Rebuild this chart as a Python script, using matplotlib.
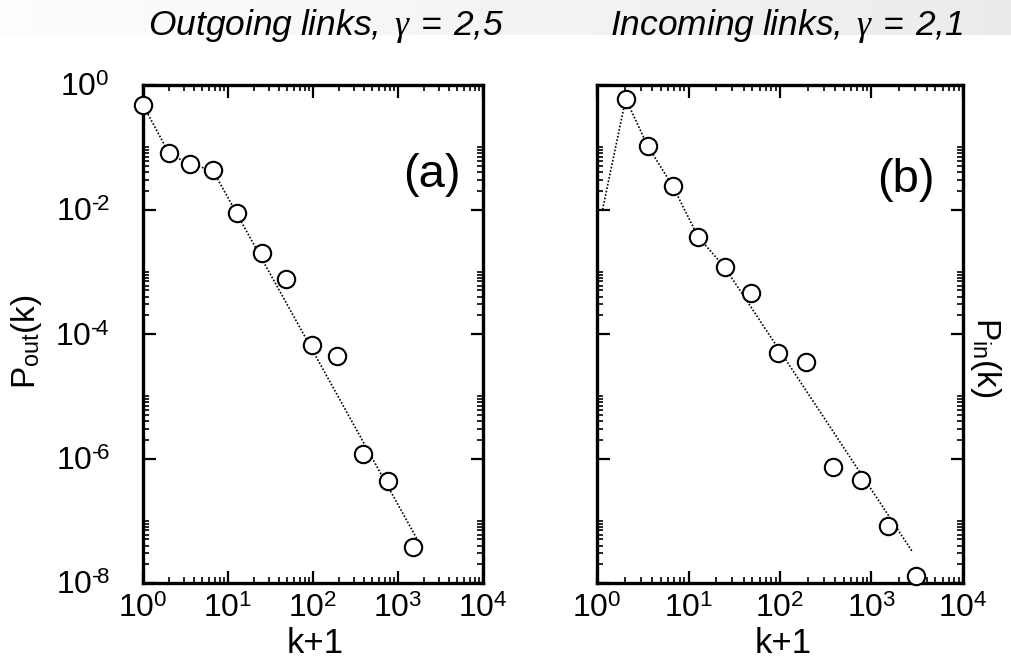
import numpy as np
import matplotlib
matplotlib.use("Agg")
import matplotlib.pyplot as plt
from matplotlib.ticker import FixedLocator, NullFormatter

plt.rcParams['font.family'] = ['Liberation Sans', 'DejaVu Sans']
plt.rcParams['mathtext.fontset'] = 'custom'
plt.rcParams['mathtext.rm'] = 'Liberation Sans'
plt.rcParams['mathtext.sf'] = 'Liberation Sans:italic'
plt.rcParams['mathtext.it'] = 'Liberation Serif:italic'

# (a) outgoing links: points
k_out = [1.0, 2.02, 3.57, 6.6, 12.6, 24.9, 48, 96.6, 190, 384, 757, 1515]
p_out = [0.48, 0.08, 0.053, 0.043, 0.0087, 0.0020, 7.6e-4, 6.6e-5, 4.5e-5, 1.2e-6, 4.4e-7, 3.8e-8]
# dotted guide line (a)
line_out_k = [1.0, 2.02, 3.57, 6.6, 1660]
line_out_p = [0.48, 0.08, 0.053, 0.043, 5.2e-8]

# (b) incoming links
k_in = [2.06, 3.58, 6.7, 12.8, 24.9, 48.2, 95.8, 191, 383, 762, 1527, 3040]
p_in = [0.60, 0.105, 0.024, 0.0036, 0.00118, 4.6e-4, 4.9e-5, 3.5e-5, 7.2e-7, 4.5e-7, 8.3e-8, 1.3e-8]
# dotted guide line (b)
line_in_k = [1.15, 2.06, 3.58, 6.7, 12.8, 24.9, 2790]
line_in_p = [0.01, 0.60, 0.105, 0.024, 0.0036, 0.00118, 3.2e-8]

x_ticks = [1, 10, 100, 1000, 10000]
x_tick_labels = ['10$^{0}$', '10$^{1}$', '10$^{2}$', '10$^{3}$', '10$^{4}$']
y_ticks = [1, 1e-2, 1e-4, 1e-6, 1e-8]
y_tick_labels = ['10$^{0}$', '10$^{\u2010\\!2}$', '10$^{\u2010\\!4}$',
                 '10$^{\u2010\\!6}$', '10$^{\u2010\\!8}$']

titles = [r'$\mathsf{Outgoing\ links,}\ \gamma\;\mathsf{=\;2{,}5}$',
          r'$\mathsf{Incoming\ links,}\ \gamma\;\mathsf{=\;2{,}1}$']
panel_tags = ['(a)', '(b)']

W, H = 1011, 659
fig = plt.figure(figsize=(W / 100, H / 100), dpi=100)

# light grey band of the slide background at the top
band = fig.add_axes([0, 1 - 35 / H, 1, 35 / H])
grad = np.linspace(0.99, 0.92, 256).reshape(1, -1)
band.imshow(grad, aspect='auto', cmap='gray', vmin=0, vmax=1, extent=[0, 1, 0, 1])
band.axis('off')


def px_box(x0, y0, x1, y1):
    return [x0 / W, 1 - y1 / H, (x1 - x0) / W, (y1 - y0) / H]


ax1 = fig.add_axes(px_box(143, 85, 483, 583))
ax2 = fig.add_axes(px_box(597, 85, 963, 583))

y_minor = []
for e in [-8, -6, -4, -2]:
    for n in range(2, 11):
        y_minor.append(n * 10.0 ** e)
x_minor = []
for e in range(0, 4):
    for n in range(2, 10):
        x_minor.append(n * 10.0 ** e)

for ax, kx, py, lx, ly in [(ax1, k_out, p_out, line_out_k, line_out_p),
                           (ax2, k_in, p_in, line_in_k, line_in_p)]:
    ax.plot(lx, ly, color='black', linestyle=(0, (1, 1.1)), linewidth=1.2, zorder=2)
    ax.plot(kx, py, 'o', markersize=12.5, markerfacecolor='white',
            markeredgecolor='black', markeredgewidth=1.5, linestyle='none',
            zorder=3, clip_on=False)
    ax.set_xscale('log')
    ax.set_yscale('log')
    ax.set_xlim(1, 1e4)
    ax.set_ylim(1e-8, 1)
    ax.xaxis.set_major_locator(FixedLocator(x_ticks))
    ax.xaxis.set_minor_locator(FixedLocator(x_minor))
    ax.yaxis.set_major_locator(FixedLocator(y_ticks))
    ax.yaxis.set_minor_locator(FixedLocator(y_minor))
    ax.xaxis.set_minor_formatter(NullFormatter())
    ax.yaxis.set_minor_formatter(NullFormatter())
    ax.set_xticklabels(x_tick_labels, fontsize=23)
    ax.tick_params(which='both', direction='in', top=True, right=True)
    ax.tick_params(which='major', length=9, width=1.6, pad=8)
    ax.tick_params(which='minor', length=4.5, width=1.2)
    for s in ax.spines.values():
        s.set_linewidth(2.4)

ax1.set_yticklabels(y_tick_labels, fontsize=23)
ax1.tick_params(axis='y', pad=24)
ax2.set_yticklabels([])

# panel tags
fig.text(432 / W, 1 - 175 / H, panel_tags[0], fontsize=34, ha='center', va='center')
fig.text(906 / W, 1 - 180 / H, panel_tags[1], fontsize=34, ha='center', va='center')

# axis labels
fig.text(315 / W, 1 - 653 / H, 'k+1', fontsize=25, ha='center', va='baseline')
fig.text(783 / W, 1 - 653 / H, 'k+1', fontsize=25, ha='center', va='baseline')
fig.text(27 / W, 1 - 342 / H, r'P$_{\rm out}$(k)', fontsize=24, rotation=90,
         ha='center', va='center')
fig.text(986 / W, 1 - 357 / H, r'P$_{\rm in}$(k)', fontsize=24, rotation=-90,
         ha='center', va='center')

# titles
fig.text(148 / W, 1 - 35 / H, titles[0], fontsize=25.5, ha='left', va='baseline')
fig.text(610 / W, 1 - 35 / H, titles[1], fontsize=25.5, ha='left', va='baseline')

fig.savefig('out.png', dpi=100)
